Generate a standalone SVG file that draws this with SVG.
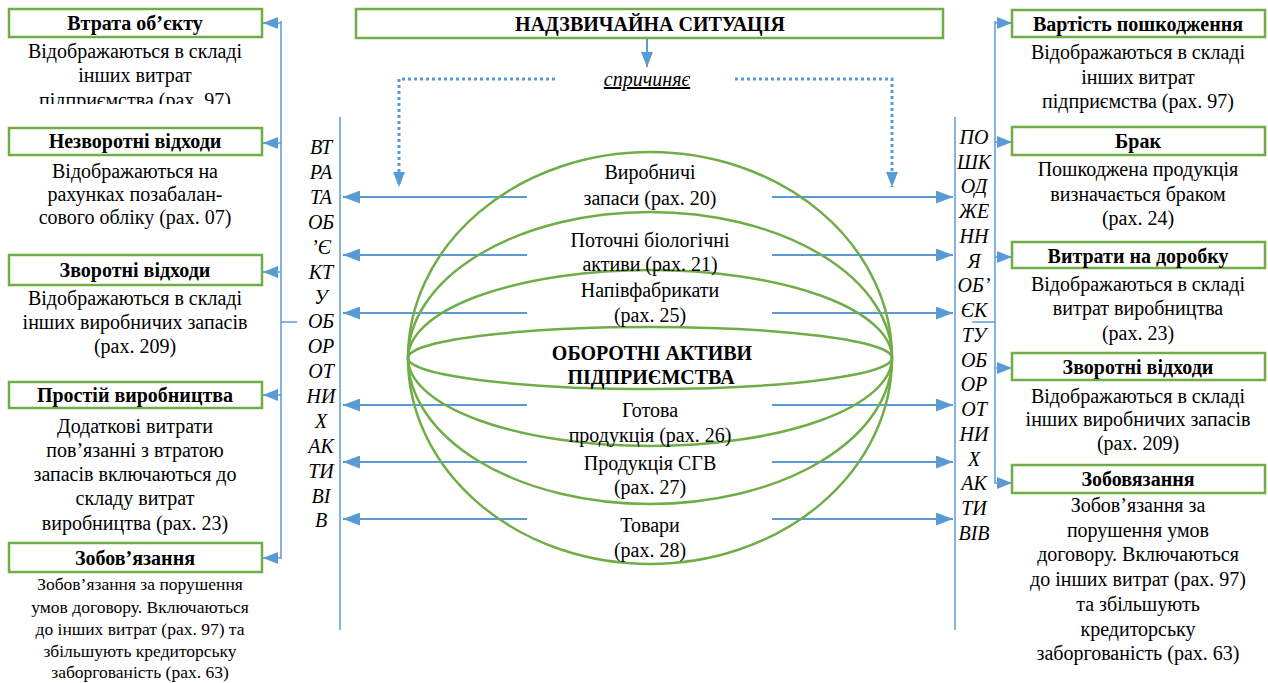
<svg xmlns="http://www.w3.org/2000/svg" width="1268" height="683" viewBox="0 0 1268 683" font-family="'Liberation Serif', 'DejaVu Serif', serif">
<style>
text{fill:#000;}
.h{font-size:20px;font-weight:bold;text-anchor:middle;}
.d{font-size:20px;text-anchor:middle;}
.s{font-size:17.5px;text-anchor:middle;}
.v{font-size:20px;font-style:italic;text-anchor:middle;}
.box{fill:#fff;stroke:#70AD47;stroke-width:2.5;}
.ell{fill:none;stroke:#70AD47;stroke-width:2.5;}
.ln{fill:none;stroke:#5B9BD5;stroke-width:2;}
.thin{fill:none;stroke:#5B9BD5;stroke-width:1.5;}
.dot{fill:none;stroke:#5B9BD5;stroke-width:3;stroke-dasharray:3 3;}
</style>
<defs>
<marker id="ah" markerUnits="userSpaceOnUse" viewBox="0 0 17 13" markerWidth="17" markerHeight="13" refX="17" refY="6.5" orient="auto">
<path d="M0,0 L17,6.5 L0,13 z" fill="#5B9BD5"/>
</marker>
<marker id="ahs" markerUnits="userSpaceOnUse" viewBox="0 0 15 12" markerWidth="15" markerHeight="12" refX="15" refY="6" orient="auto">
<path d="M0,0 L15,6 L0,12 z" fill="#5B9BD5"/>
</marker>
<clipPath id="clipL1"><rect x="0" y="40" width="280" height="64"/></clipPath>
</defs>

<g id="connectors">
<line class="ln" x1="647" y1="38" x2="647" y2="67" marker-end="url(#ahs)"/>
<path class="dot" d="M555,79 H399 V187" marker-end="url(#ahs)"/>
<path class="dot" d="M735,79 H892 V187" marker-end="url(#ahs)"/>
<line class="ln" x1="527" y1="197" x2="343" y2="197" marker-end="url(#ah)"/>
<line class="ln" x1="527" y1="255" x2="343" y2="255" marker-end="url(#ah)"/>
<line class="ln" x1="527" y1="313" x2="343" y2="313" marker-end="url(#ah)"/>
<line class="ln" x1="527" y1="405" x2="343" y2="405" marker-end="url(#ah)"/>
<line class="ln" x1="527" y1="462" x2="343" y2="462" marker-end="url(#ah)"/>
<line class="ln" x1="527" y1="519" x2="343" y2="519" marker-end="url(#ah)"/>
<line class="ln" x1="772" y1="197" x2="953" y2="197" marker-end="url(#ah)"/>
<line class="ln" x1="772" y1="255" x2="953" y2="255" marker-end="url(#ah)"/>
<line class="ln" x1="772" y1="313" x2="953" y2="313" marker-end="url(#ah)"/>
<line class="ln" x1="772" y1="405" x2="953" y2="405" marker-end="url(#ah)"/>
<line class="ln" x1="772" y1="462" x2="953" y2="462" marker-end="url(#ah)"/>
<line class="ln" x1="772" y1="519" x2="953" y2="519" marker-end="url(#ah)"/>
<line class="thin" x1="340" y1="117" x2="340" y2="630"/>
<line class="thin" x1="955" y1="117" x2="955" y2="630"/>
<line class="thin" x1="281" y1="322" x2="297" y2="322"/>
<line class="thin" x1="972" y1="322" x2="995" y2="322"/>
<path class="thin" d="M281,21 V558 H263" marker-end="url(#ahs)"/>
<path class="thin" d="M281,23 H263" marker-end="url(#ahs)"/>
<path class="thin" d="M281,143 H263" marker-end="url(#ahs)"/>
<path class="thin" d="M281,272 H263" marker-end="url(#ahs)"/>
<path class="thin" d="M281,395 H263" marker-end="url(#ahs)"/>
<path class="thin" d="M995,21 V483 H1012" marker-end="url(#ahs)"/>
<path class="thin" d="M995,23 H1012" marker-end="url(#ahs)"/>
<path class="thin" d="M995,142 H1012" marker-end="url(#ahs)"/>
<path class="thin" d="M995,257 H1012" marker-end="url(#ahs)"/>
<path class="thin" d="M995,368 H1012" marker-end="url(#ahs)"/>
</g>

<g id="top">
<rect class="box" x="356" y="9" width="587" height="29"/>
<text class="h" x="650" y="31">НАДЗВИЧАЙНА СИТУАЦІЯ</text>
</g>
<g id="cause">
<text x="647" y="86" style="font-size:20px;font-style:italic;text-anchor:middle;text-decoration:underline;">спричиняє</text>
</g>

<g id="assets">
<ellipse class="ell" cx="650" cy="358" rx="242" ry="206"/>
<ellipse class="ell" cx="650" cy="358" rx="242" ry="146"/>
<ellipse class="ell" cx="650" cy="358" rx="242" ry="88"/>
<ellipse class="ell" cx="650" cy="358" rx="242" ry="31"/>
<text class="h" x="652" y="360">ОБОРОТНІ АКТИВИ</text>
<text class="h" x="651" y="384">ПІДПРИЄМСТВА</text>
<text class="d" x="650" y="179">Виробничі</text>
<text class="d" x="650" y="205">запаси (рах. 20)</text>
<text class="d" x="650" y="247">Поточні біологічні</text>
<text class="d" x="650" y="271">активи (рах. 21)</text>
<text class="d" x="650" y="297">Напівфабрикати</text>
<text class="d" x="650" y="322">(рах. 25)</text>
<text class="d" x="650" y="417">Готова</text>
<text class="d" x="650" y="442">продукція (рах. 26)</text>
<text class="d" x="650" y="470">Продукція СГВ</text>
<text class="d" x="650" y="494">(рах. 27)</text>
<text class="d" x="650" y="532">Товари</text>
<text class="d" x="650" y="557">(рах. 28)</text>
</g>

<g id="vleft">
<text class="v" x="321" y="154">ВТ</text>
<text class="v" x="321" y="179">РА</text>
<text class="v" x="321" y="204">ТА</text>
<text class="v" x="321" y="229">ОБ</text>
<text class="v" x="321" y="254">’Є</text>
<text class="v" x="321" y="279">КТ</text>
<text class="v" x="321" y="304">У</text>
<text class="v" x="321" y="328">ОБ</text>
<text class="v" x="321" y="353">ОР</text>
<text class="v" x="321" y="378">ОТ</text>
<text class="v" x="321" y="403">НИ</text>
<text class="v" x="321" y="428">Х</text>
<text class="v" x="321" y="453">АК</text>
<text class="v" x="321" y="478">ТИ</text>
<text class="v" x="321" y="503">ВІ</text>
<text class="v" x="321" y="527">В</text>
</g>

<g id="vright">
<text class="v" x="974" y="144">ПО</text>
<text class="v" x="974" y="169">ШК</text>
<text class="v" x="974" y="193">ОД</text>
<text class="v" x="974" y="218">ЖЕ</text>
<text class="v" x="974" y="243">НН</text>
<text class="v" x="974" y="268">Я</text>
<text class="v" x="974" y="292">ОБ’</text>
<text class="v" x="974" y="317">ЄК</text>
<text class="v" x="974" y="342">ТУ</text>
<text class="v" x="974" y="367">ОБ</text>
<text class="v" x="974" y="391">ОР</text>
<text class="v" x="974" y="416">ОТ</text>
<text class="v" x="974" y="441">НИ</text>
<text class="v" x="974" y="466">Х</text>
<text class="v" x="974" y="490">АК</text>
<text class="v" x="974" y="515">ТИ</text>
<text class="v" x="974" y="540">ВІВ</text>
</g>

<g id="l1">
<rect class="box" x="9" y="9" width="253" height="28"/>
<text class="h" x="135" y="30">Втрата об’єкту</text>
<g clip-path="url(#clipL1)">
<text class="d" x="135" y="58">Відображаються в складі</text>
<text class="d" x="135" y="82">інших витрат</text>
<text class="d" x="135" y="107">підприємства (рах. 97)</text>
</g>
</g>
<g id="l2">
<rect class="box" x="9" y="128" width="253" height="27"/>
<text class="h" x="135" y="148">Незворотні відходи</text>
<text class="d" x="135" y="178">Відображаються на</text>
<text class="d" x="135" y="201">рахунках позабалан-</text>
<text class="d" x="135" y="224">сового обліку (рах. 07)</text>
</g>
<g id="l3">
<rect class="box" x="9" y="255" width="253" height="30"/>
<text class="h" x="135" y="277">Зворотні відходи</text>
<text class="d" x="135" y="305">Відображаються в складі</text>
<text class="d" x="135" y="329">інших виробничих запасів</text>
<text class="d" x="135" y="353">(рах. 209)</text>
</g>
<g id="l4">
<rect class="box" x="9" y="382" width="253" height="26"/>
<text class="h" x="135" y="402">Простій виробництва</text>
<text class="d" x="135" y="433">Додаткові витрати</text>
<text class="d" x="135" y="457">пов’язанні з втратою</text>
<text class="d" x="135" y="481">запасів включаються до</text>
<text class="d" x="135" y="505">складу витрат</text>
<text class="d" x="135" y="530">виробництва (рах. 23)</text>
</g>
<g id="l5">
<rect class="box" x="9" y="543" width="253" height="29"/>
<text class="h" x="135" y="565">Зобов’язання</text>
<text class="s" x="140" y="590">Зобов’язання за порушення</text>
<text class="s" x="140" y="613">умов договору. Включаються</text>
<text class="s" x="140" y="635">до інших витрат (рах. 97) та</text>
<text class="s" x="140" y="657">збільшують кредиторську</text>
<text class="s" x="140" y="678">заборгованість (рах. 63)</text>
</g>

<g id="r1">
<rect class="box" x="1012" y="10" width="253" height="27"/>
<text class="h" x="1138" y="31">Вартість пошкодження</text>
<text class="d" x="1138" y="59">Відображаються в складі</text>
<text class="d" x="1138" y="84">інших витрат</text>
<text class="d" x="1138" y="108">підприємства (рах. 97)</text>
</g>
<g id="r2">
<rect class="box" x="1012" y="127" width="253" height="28"/>
<text class="h" x="1138" y="148">Брак</text>
<text class="d" x="1138" y="176">Пошкоджена продукція</text>
<text class="d" x="1138" y="201">визначається браком</text>
<text class="d" x="1138" y="225">(рах. 24)</text>
</g>
<g id="r3">
<rect class="box" x="1012" y="242" width="253" height="26"/>
<text class="h" x="1138" y="263">Витрати на доробку</text>
<text class="d" x="1138" y="291">Відображаються в складі</text>
<text class="d" x="1138" y="315">витрат виробництва</text>
<text class="d" x="1138" y="340">(рах. 23)</text>
</g>
<g id="r4">
<rect class="box" x="1012" y="353" width="253" height="27"/>
<text class="h" x="1138" y="374">Зворотні відходи</text>
<text class="d" x="1138" y="403">Відображаються в складі</text>
<text class="d" x="1138" y="426">інших виробничих запасів</text>
<text class="d" x="1138" y="450">(рах. 209)</text>
</g>
<g id="r5">
<rect class="box" x="1012" y="465" width="253" height="28"/>
<text class="h" x="1138" y="486">Зобовязання</text>
<text class="d" x="1138" y="512">Зобов’язання за</text>
<text class="d" x="1138" y="537">порушення умов</text>
<text class="d" x="1138" y="561">договору. Включаються</text>
<text class="d" x="1138" y="586">до інших витрат (рах. 97)</text>
<text class="d" x="1138" y="611">та збільшують</text>
<text class="d" x="1138" y="636">кредиторську</text>
<text class="d" x="1138" y="660">заборгованість (рах. 63)</text>
</g>
</svg>
